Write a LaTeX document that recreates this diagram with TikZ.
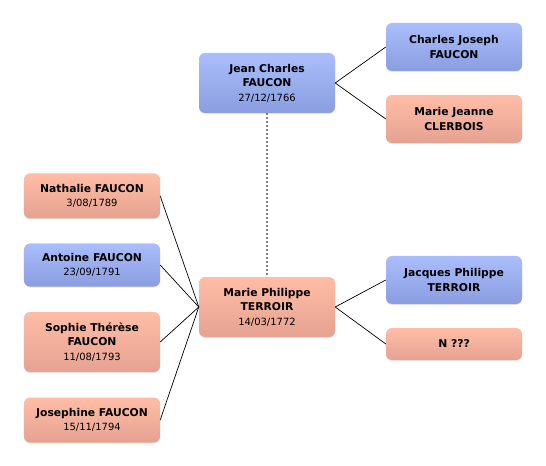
\documentclass[tikz,border=0pt]{standalone}
\usepackage{fontspec}
\setmainfont{DejaVu Sans}
\usetikzlibrary{shadows}

\definecolor{manTop}{HTML}{AABEFD}
\definecolor{manBot}{HTML}{8A9DDF}
\definecolor{womanTop}{HTML}{FFBDA6}
\definecolor{womanBot}{HTML}{E6A291}
\newcommand{\bdate}[1]{{\fontseries{m}\fontsize{10}{14}\selectfont #1}}

\begin{document}
\begin{tikzpicture}[x=1bp, y=-1bp,
  person/.style={rectangle, rounded corners=6bp, minimum width=136bp,
    align=center, font=\bfseries\fontsize{10.8}{14.5}\selectfont, inner sep=2bp,
    drop shadow={opacity=0.18, shadow xshift=0bp, shadow yshift=-1bp}},
  man/.style={person, top color=manTop, bottom color=manBot},
  woman/.style={person, top color=womanTop, bottom color=womanBot},
  link/.style={draw=black, line width=0.7bp},
  marriage/.style={draw=gray, line width=1.4bp, dash pattern=on 2bp off 2bp}]
  \useasboundingbox (0,0) rectangle (546,466);
  % parents
  \node[man, minimum height=60bp] (jean) at (267, 83)
    {Jean Charles\\FAUCON\\\bdate{27/12/1766}};
  \node[woman, minimum height=60bp] (marie) at (267, 307)
    {Marie Philippe\\TERROIR\\\bdate{14/03/1772}};
  % grandparents
  \node[man, minimum height=48bp] (charles) at (454, 47)
    {Charles Joseph\\FAUCON};
  \node[woman, minimum height=48bp] (jeanne) at (454, 119)
    {Marie Jeanne\\CLERBOIS};
  \node[man, minimum height=48bp] (jacques) at (454, 280)
    {Jacques Philippe\\TERROIR};
  \node[woman, minimum height=32bp] (nn) at (454, 344) {N ???};
  % children
  \node[woman, minimum height=45bp] (nathalie) at (92, 196)
    {Nathalie FAUCON\\\bdate{3/08/1789}};
  \node[man, minimum height=43bp] (antoine) at (92, 265)
    {Antoine FAUCON\\\bdate{23/09/1791}};
  \node[woman, minimum height=60bp] (sophie) at (92, 342)
    {Sophie Thérèse\\FAUCON\\\bdate{11/08/1793}};
  \node[woman, minimum height=45bp] (josephine) at (92, 420)
    {Josephine FAUCON\\\bdate{15/11/1794}};

  \draw[marriage] (jean.south) -- (marie.north);
  \draw[link] (jean.east) -- (charles.west);
  \draw[link] (jean.east) -- (jeanne.west);
  \draw[link] (marie.east) -- (jacques.west);
  \draw[link] (marie.east) -- (nn.west);
  \foreach \kid in {nathalie, antoine, sophie, josephine}
    \draw[link] (\kid.east) -- (marie.west);
\end{tikzpicture}
\end{document}
